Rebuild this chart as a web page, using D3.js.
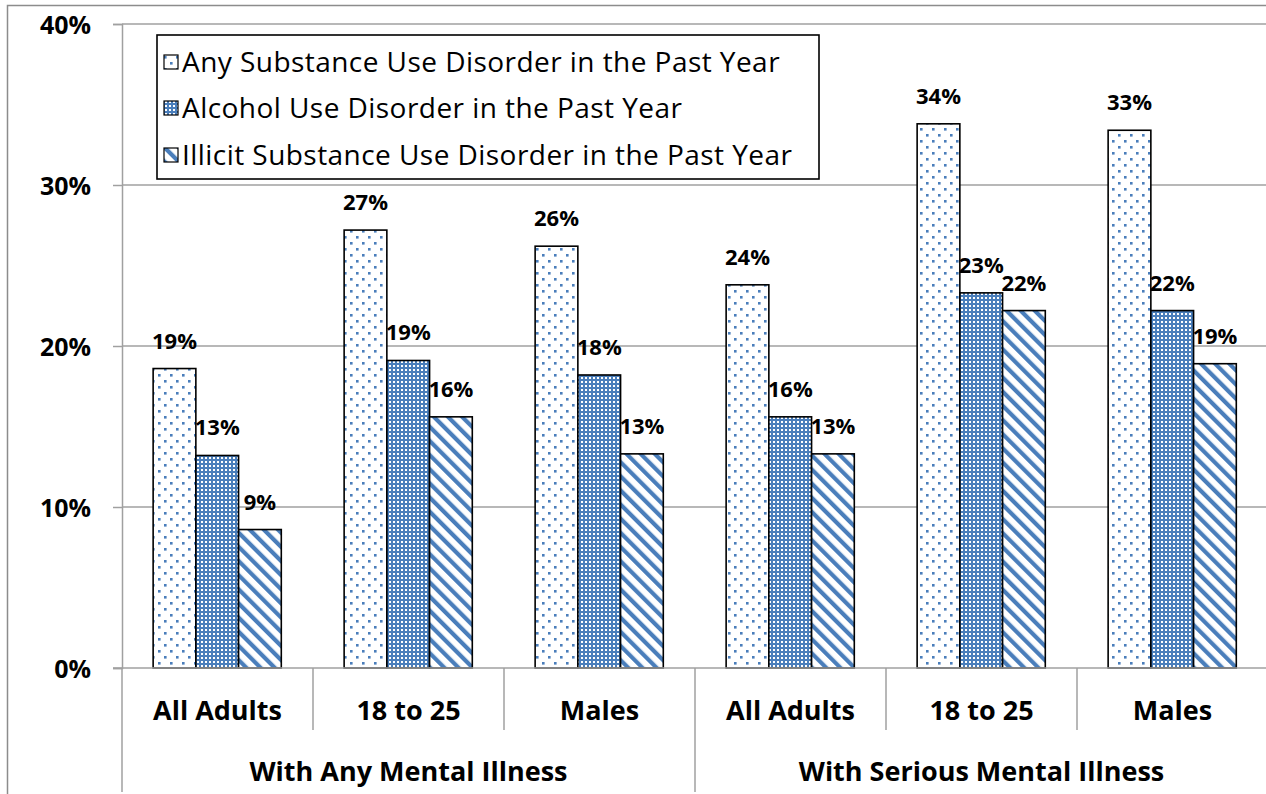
<!DOCTYPE html>
<html>
<head>
<meta charset="utf-8">
<script src="https://cdn.jsdelivr.net/npm/d3@7"></script>
<style>
  html, body { margin: 0; padding: 0; background: #fff; }
  svg { display: block; font-family: "Open Sans", Lato, sans-serif; }
</style>
</head>
<body>
<svg id="chart" width="1266" height="794"></svg>
<script>
// Subgroup labels along the x axis, with their parent groups
const categories = ["All Adults", "18 to 25", "Males", "All Adults", "18 to 25", "Males"];
const groups = ["With Any Mental Illness", "With Serious Mental Illness"];
const groupSize = 3;

// Series names (legend order) and percentages per category
const seriesNames = [
  "Any Substance Use Disorder in the Past Year",
  "Alcohol Use Disorder in the Past Year",
  "Illicit Substance Use Disorder in the Past Year"
];
const anySUD     = [18.6, 27.2, 26.2, 23.8, 33.8, 33.4];
const alcoholUD  = [13.2, 19.1, 18.2, 15.6, 23.3, 22.2];
const illicitUD  = [ 8.6, 15.6, 13.3, 13.3, 22.2, 18.9];

// Value axis ticks (percent)
const yTicks = [0, 10, 20, 30, 40];

const series = [anySUD, alcoholUD, illicitUD];
const patternIds = ["pat-dots", "pat-grid", "pat-diag"];
const blue = "#4a7ebb";

const svg = d3.select("#chart");
const plot = { left: 122, right: 1268, top: 24, bottom: 668 };

// ---- fill patterns ----
const defs = svg.append("defs");

// sparse staggered dots on white
const pDots = defs.append("pattern").attr("id", "pat-dots")
  .attr("patternUnits", "userSpaceOnUse").attr("width", 12).attr("height", 12);
pDots.append("rect").attr("width", 12).attr("height", 12).attr("fill", "#fff");
pDots.append("rect").attr("x", 2).attr("y", 2).attr("width", 2.6).attr("height", 2.6).attr("fill", blue);
pDots.append("rect").attr("x", 8).attr("y", 8).attr("width", 2.6).attr("height", 2.6).attr("fill", blue);

// dense white dots on blue
const pGrid = defs.append("pattern").attr("id", "pat-grid")
  .attr("patternUnits", "userSpaceOnUse").attr("width", 4).attr("height", 4);
pGrid.append("rect").attr("width", 4).attr("height", 4).attr("fill", blue);
pGrid.append("rect").attr("x", 1).attr("y", 1).attr("width", 2).attr("height", 2).attr("fill", "#fff");

// wide downward diagonal stripes
const pDiag = defs.append("pattern").attr("id", "pat-diag")
  .attr("patternUnits", "userSpaceOnUse").attr("width", 10).attr("height", 10)
  .attr("patternTransform", "rotate(-45)");
pDiag.append("rect").attr("width", 10).attr("height", 10).attr("fill", "#fff");
pDiag.append("rect").attr("x", 0).attr("width", 4.2).attr("height", 10).attr("fill", blue);

// ---- outer frame ----
svg.append("rect")
  .attr("x", 7.5).attr("y", 5.5).attr("width", 1400).attr("height", 1000)
  .attr("fill", "none").attr("stroke", "#8c8c8c").attr("stroke-width", 1.5);

// ---- scales ----
const x = d3.scaleBand().domain(d3.range(categories.length))
  .range([plot.left, plot.right]).padding(0);
const bw = x.bandwidth();
const xs = d3.scaleBand().domain(d3.range(series.length))
  .range([bw * 0.163, bw * 0.834]).padding(0);
const y = d3.scaleLinear().domain([0, 40]).range([plot.bottom, plot.top]);

// ---- gridlines ----
svg.append("g").selectAll("line").data(yTicks.filter(d => d > 0)).join("line")
  .attr("x1", plot.left).attr("x2", plot.right)
  .attr("y1", d => y(d)).attr("y2", d => y(d))
  .attr("stroke", "#a0a0a0").attr("stroke-width", 1.5);

// ---- y axis ----
const yAxis = svg.append("g")
  .attr("transform", `translate(${plot.left},0)`)
  .call(d3.axisLeft(y).tickValues(yTicks).tickFormat(d => d + "%").tickSize(9).tickPadding(22));
yAxis.select(".domain").attr("stroke", "#a0a0a0").attr("stroke-width", 1.5);
yAxis.selectAll(".tick line").attr("stroke", "#a0a0a0").attr("stroke-width", 1.5);
yAxis.selectAll(".tick text")
  .attr("font-size", 25).attr("font-weight", "bold").attr("fill", "#000")
  .attr("font-family", "'Open Sans', sans-serif").attr("dy", "0.36em");

// ---- bars ----
const barG = svg.append("g");
series.forEach((vals, si) => {
  barG.append("g").selectAll("rect").data(vals).join("rect")
    .attr("x", (d, i) => x(i) + xs(si))
    .attr("width", xs.bandwidth())
    .attr("y", d => y(d))
    .attr("height", d => y(0) - y(d))
    .attr("fill", `url(#${patternIds[si]})`)
    .attr("stroke", "#000").attr("stroke-width", 1.6);
});

// ---- value labels ----
series.forEach((vals, si) => {
  svg.append("g").selectAll("text").data(vals).join("text")
    .attr("x", (d, i) => x(i) + xs(si) + xs.bandwidth() / 2)
    .attr("y", d => y(d) - 20)
    .attr("text-anchor", "middle")
    .attr("font-size", 22).attr("font-weight", "bold")
    .text(d => Math.round(d) + "%");
});

// ---- x axis line and category dividers ----
svg.append("line")
  .attr("x1", plot.left - 9).attr("x2", plot.right)
  .attr("y1", plot.bottom).attr("y2", plot.bottom)
  .attr("stroke", "#a0a0a0").attr("stroke-width", 1.5);

const bounds = d3.range(categories.length + 1).map(i => plot.left + i * bw);
svg.append("g").selectAll("line").data(bounds).join("line")
  .attr("x1", d => d).attr("x2", d => d)
  .attr("y1", plot.bottom)
  .attr("y2", (d, i) => (i % groupSize === 0) ? 792 : 730)
  .attr("stroke", "#a0a0a0").attr("stroke-width", 1.5);

// category labels
svg.append("g").selectAll("text").data(categories).join("text")
  .attr("x", (d, i) => x(i) + bw / 2)
  .attr("y", 710)
  .attr("dy", "0.36em")
  .attr("text-anchor", "middle")
  .attr("font-size", 27).attr("font-weight", "bold")
  .text(d => d);

// group labels
svg.append("g").selectAll("text").data(groups).join("text")
  .attr("x", (d, gi) => x(gi * groupSize) + bw * groupSize / 2)
  .attr("y", 771)
  .attr("dy", "0.36em")
  .attr("text-anchor", "middle")
  .attr("font-size", 27).attr("font-weight", "bold")
  .text(d => d);

// ---- legend ----
const legend = svg.append("g");
legend.append("rect")
  .attr("x", 157).attr("y", 35).attr("width", 662).attr("height", 144)
  .attr("fill", "#fff").attr("stroke", "#000").attr("stroke-width", 1.6);
const rowY = [62, 108, 155];
seriesNames.forEach((name, si) => {
  legend.append("rect")
    .attr("x", 164).attr("y", rowY[si] - 7).attr("width", 14).attr("height", 14)
    .attr("fill", `url(#${patternIds[si]})`)
    .attr("stroke", "#000").attr("stroke-width", 1.2);
  legend.append("text")
    .attr("x", 182).attr("y", rowY[si]).attr("dy", "0.36em")
    .attr("font-size", 28).attr("letter-spacing", 0.45)
    .text(name);
});
</script>
</body>
</html>
